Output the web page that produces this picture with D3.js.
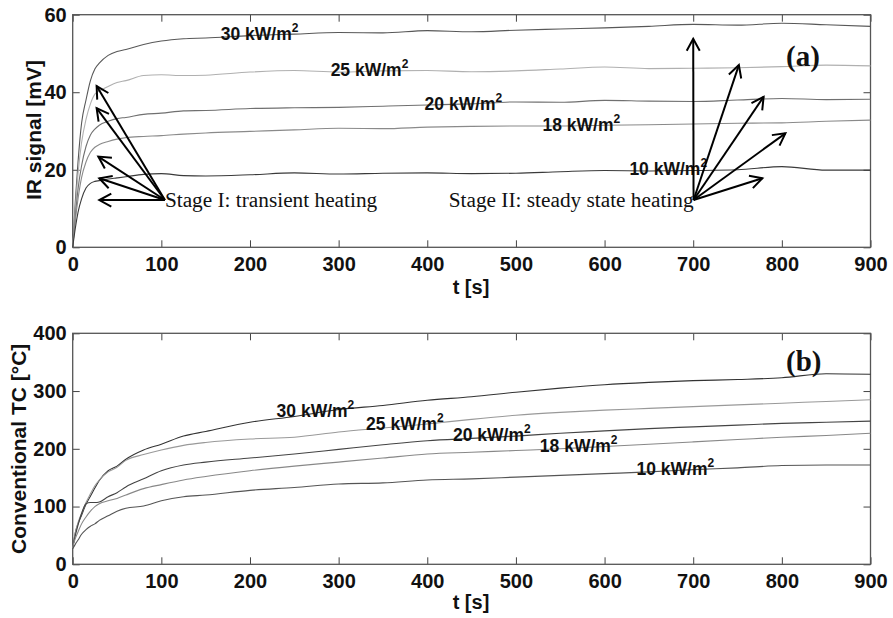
<!DOCTYPE html>
<html>
<head>
<meta charset="utf-8">
<script src="https://cdn.jsdelivr.net/npm/d3@7"></script>
<style>
  body { margin: 0; background: #fff; }
  svg text { font-family: "Liberation Sans", Arial, sans-serif; }
</style>
</head>
<body>
<svg id="chart" width="893" height="618"></svg>
<script>
// time samples shared by every curve
const times = [0, 3, 6, 10, 15, 20, 25, 30, 40, 50, 60, 80, 100, 125, 150, 200, 250, 300, 350, 400, 450, 500, 550, 600, 650, 700, 750, 800, 850, 900];

const fluxes = ['30', '25', '20', '18', '10'];

// (a) IR signal [mV]
const ir30 = [0, 12, 22, 32, 38, 43, 46, 47.5, 49.5, 50.5, 51, 52.3, 53.2, 53.8, 54, 54.6, 55, 55.4, 55.3, 55.9, 55.6, 56, 56.3, 56.6, 57, 57.5, 57.3, 57.8, 57.4, 57];
const ir25 = [0, 10, 19, 27, 33, 37, 39.5, 40.3, 41.5, 42.5, 43, 44.3, 44.5, 44.3, 44.4, 45.2, 45.6, 45.2, 45.5, 45.6, 45.3, 45.5, 46, 46.5, 46.1, 46.2, 46.3, 46.6, 47, 46.8];
const ir20 = [0, 8, 15, 21, 26, 29, 30.5, 31.5, 32.5, 33.2, 33.5, 34.3, 34.6, 35.2, 35.3, 35.8, 36, 36.1, 36.4, 36.7, 37, 37.5, 37.4, 37.9, 37.7, 37.6, 38, 38.4, 38.1, 38.2];
const ir18 = [0, 7, 12.5, 18, 22, 24.5, 25.8, 26.5, 27.3, 27.9, 28.3, 28.6, 28.8, 29.2, 29.5, 29.9, 30.3, 30.7, 30.6, 31, 31.2, 31.3, 31.3, 31.5, 31.6, 31.8, 32, 32.1, 32.5, 32.8];
const ir10 = [0, 5, 9, 12.5, 15.3, 16.5, 17, 17.2, 17.6, 17.9, 18.2, 18.8, 19, 18.5, 18.4, 18.7, 19.2, 18.9, 19.1, 19.2, 19, 19.1, 19.5, 19.8, 19.7, 19.8, 20, 20.8, 19.9, 19.9];

// (b) Conventional TC [°C]
const tc30 = [28, 55, 70, 85, 104, 118, 132, 145, 162, 170, 182, 198, 208, 222, 230, 246, 256, 268, 275, 284, 290, 298, 305, 311, 315, 318, 320, 323, 330, 329];
const tc25 = [28, 55, 72, 88, 107, 122, 136, 146, 160, 168, 180, 190, 198, 206, 211, 217, 220, 229, 236, 243, 251, 258, 263, 267, 270, 273, 276, 279, 282, 285];
const tc20 = [30, 50, 68, 88, 105, 107, 107, 108, 117, 124, 134, 148, 162, 172, 177, 184, 191, 199, 207, 214, 218, 222, 227, 231, 235, 238, 241, 244, 246, 248];
const tc18 = [30, 45, 56, 70, 82, 92, 100, 105, 110, 114, 120, 131, 138, 146, 152, 162, 170, 177, 184, 191, 194, 197, 200, 204, 208, 212, 216, 220, 223, 227];
const tc10 = [27, 35, 42, 52, 60, 66, 70, 76, 84, 92, 97, 101, 110, 117, 120, 128, 133, 139, 141, 146, 148, 151, 154, 157, 160, 164, 167, 171, 172, 172];

// label anchors [t, value]
const irLabelPos = [[167, 53.5], [291, 44.2], [397, 35.4], [530, 30.1], [628, 18.6]];
const tcLabelPos = [[230, 254.5], [331, 232.5], [429, 214], [527, 195], [636, 154.6]];

// annotation arrows: [t, value] of tail and heads
const stage1From = [104, 12.2];
const stage1To = [[27, 41.6], [27, 35.9], [28.9, 23.4], [30, 17.8], [30, 12.2]];
const stage2From = [700.4, 12.2];
const stage2To = [[700, 53.8], [751.5, 47], [779.4, 38.8], [804, 29.4], [778, 17.8]];

const xTicks = [0, 100, 200, 300, 400, 500, 600, 700, 800, 900];
const irTicks = [0, 20, 40, 60];
const tcTicks = [0, 100, 200, 300, 400];

const serif = '"Liberation Serif", "Times New Roman", serif';
const svg = d3.select('#chart');

svg.append('defs').append('marker')
  .attr('id', 'head')
  .attr('markerUnits', 'userSpaceOnUse')
  .attr('markerWidth', 20).attr('markerHeight', 20)
  .attr('refX', 0).attr('refY', 0)
  .attr('viewBox', '-16 -10 20 20')
  .attr('orient', 'auto')
  .append('path')
  .attr('d', 'M-12,-6.5L0,0L-12,6.5')
  .attr('fill', 'none')
  .attr('stroke', '#000')
  .attr('stroke-width', 2);

function drawPanel(opt) {
  const left = 72.7, right = 870.5;
  const x = d3.scaleLinear().domain([0, 900]).range([left, right]);
  const y = d3.scaleLinear().domain(opt.yDomain).range([opt.bottom, opt.top]);

  const g = svg.append('g');

  const styleAxis = sel => {
    sel.select('.domain').remove();
    sel.selectAll('line').attr('stroke', '#444');
    sel.selectAll('text')
      .attr('font-size', 20)
      .attr('font-weight', 'bold')
      .attr('fill', '#111');
  };

  g.append('g')
    .attr('transform', `translate(0,${opt.bottom})`)
    .call(d3.axisBottom(x).tickValues(xTicks).tickSizeInner(-7).tickSizeOuter(0).tickPadding(10))
    .call(styleAxis);
  g.append('g')
    .attr('transform', `translate(0,${opt.top})`)
    .call(d3.axisTop(x).tickValues(xTicks).tickSizeInner(-7).tickSizeOuter(0).tickFormat(''))
    .call(styleAxis);
  g.append('g')
    .attr('transform', `translate(${left},0)`)
    .call(d3.axisLeft(y).tickValues(opt.yTicks).tickSizeInner(-7).tickSizeOuter(0).tickPadding(6))
    .call(styleAxis);
  g.append('g')
    .attr('transform', `translate(${right},0)`)
    .call(d3.axisRight(y).tickValues(opt.yTicks).tickSizeInner(-7).tickSizeOuter(0).tickFormat(''))
    .call(styleAxis);

  g.append('rect')
    .attr('x', left).attr('y', opt.top)
    .attr('width', right - left).attr('height', opt.bottom - opt.top)
    .attr('fill', 'none')
    .attr('stroke', '#555')
    .attr('stroke-width', 1.3);

  const line = d3.line()
    .x((d, i) => x(times[i]))
    .y(d => y(d))
    .curve(d3.curveMonotoneX);

  opt.series.forEach((s, i) => {
    g.append('path')
      .datum(s)
      .attr('fill', 'none')
      .attr('stroke', opt.colors[i])
      .attr('stroke-width', 1.1)
      .attr('d', line);
  });

  opt.labelPos.forEach((p, i) => {
    const t = g.append('text')
      .attr('x', x(p[0])).attr('y', y(p[1]))
      .attr('font-size', 17.5)
      .attr('font-weight', 'bold')
      .attr('fill', '#111')
      .text(fluxes[i] + ' kW/m');
    t.append('tspan')
      .attr('dy', -8)
      .attr('font-size', 12)
      .text('2');
  });

  g.append('text')
    .attr('x', 471).attr('y', opt.xLabelY)
    .attr('text-anchor', 'middle')
    .attr('font-size', 20)
    .attr('font-weight', 'bold')
    .attr('fill', '#111')
    .text('t [s]');

  g.append('text')
    .attr('transform', `translate(${opt.yLabelX},${(opt.top + opt.bottom) / 2 + opt.yLabelShift}) rotate(-90)`)
    .attr('text-anchor', 'middle')
    .attr('font-size', opt.yLabelSize)
    .attr('font-weight', 'bold')
    .attr('fill', '#111')
    .text(opt.yLabel);

  g.append('text')
    .attr('x', 786).attr('y', y(opt.tagValue))
    .style('font-family', serif)
    .attr('font-size', 29)
    .attr('font-weight', 'bold')
    .attr('fill', '#111')
    .text(opt.tag);

  return { x, y, g };
}

const panelA = drawPanel({
  top: 14.7, bottom: 247.3,
  yDomain: [0, 60], yTicks: irTicks,
  series: [ir30, ir25, ir20, ir18, ir10],
  colors: ['#585858', '#b0b0b0', '#707070', '#8a8a8a', '#3a3a3a'],
  labelPos: irLabelPos,
  xLabelY: 294,
  yLabel: 'IR signal [mV]', yLabelX: 41, yLabelShift: -1, yLabelSize: 21,
  tag: '(a)', tagValue: 46.8
});

drawPanel({
  top: 333.3, bottom: 564.3,
  yDomain: [0, 400], yTicks: tcTicks,
  series: [tc30, tc25, tc20, tc18, tc10],
  colors: ['#333333', '#999999', '#444444', '#888888', '#555555'],
  labelPos: tcLabelPos,
  xLabelY: 609,
  yLabel: 'Conventional TC [°C]', yLabelX: 26, yLabelShift: 0, yLabelSize: 21,
  tag: '(b)', tagValue: 334
});

// annotation arrows and stage captions (panel a)
function arrows(from, heads) {
  heads.forEach(h => {
    panelA.g.append('line')
      .attr('x1', panelA.x(from[0])).attr('y1', panelA.y(from[1]))
      .attr('x2', panelA.x(h[0])).attr('y2', panelA.y(h[1]))
      .attr('stroke', '#000')
      .attr('stroke-width', 2)
      .attr('marker-end', 'url(#head)');
  });
}
arrows(stage1From, stage1To);
arrows(stage2From, stage2To);

panelA.g.append('text')
  .attr('x', panelA.x(stage1From[0])).attr('y', panelA.y(stage1From[1]) + 7)
  .style('font-family', serif)
  .attr('font-size', 21.3)
  .attr('fill', '#111')
  .text('Stage I: transient heating');

panelA.g.append('text')
  .attr('x', panelA.x(stage2From[0])).attr('y', panelA.y(stage2From[1]) + 7)
  .attr('text-anchor', 'end')
  .style('font-family', serif)
  .attr('font-size', 21.3)
  .attr('fill', '#111')
  .text('Stage II: steady state heating');
</script>
</body>
</html>
